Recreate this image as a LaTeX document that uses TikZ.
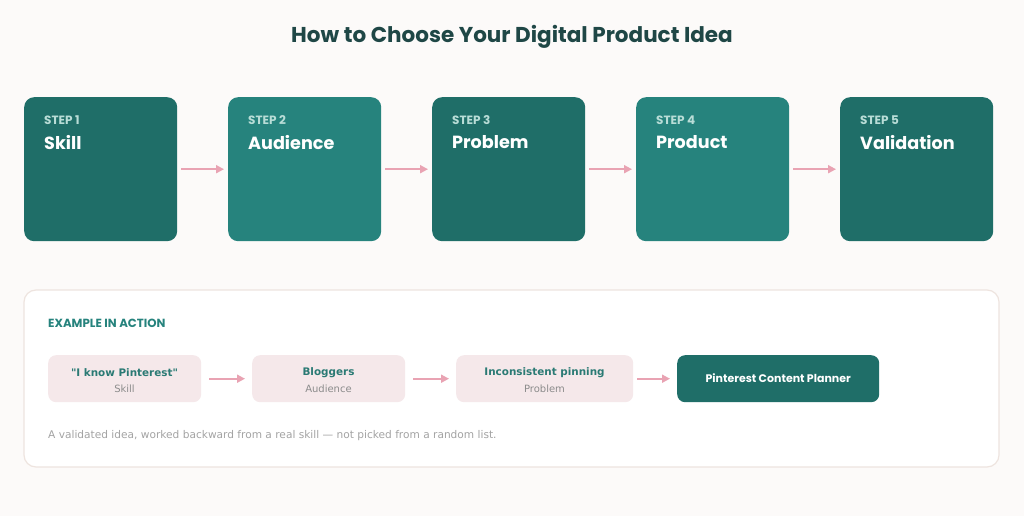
\documentclass[tikz,border=0pt]{standalone}
\usepackage{fontspec}
\setmainfont{DejaVu Sans}[Ligatures=TeXOff]
\newfontfamily\pop{Poppins}
\usetikzlibrary{arrows.meta}
\definecolor{bg}{HTML}{FCFAF9}
\definecolor{titlec}{HTML}{1F4746}
\definecolor{tealA}{HTML}{1F6E68}
\definecolor{tealB}{HTML}{26837D}
\definecolor{steplbl}{HTML}{B9DDD7}
\definecolor{pinkar}{HTML}{E9A3B3}
\definecolor{pinkbox}{HTML}{F5E8EA}
\definecolor{cardborder}{HTML}{EEE4DF}
\definecolor{subgrey}{HTML}{8C8C8C}
\definecolor{capgrey}{HTML}{A3A3A3}
\definecolor{extitle}{HTML}{2A7A74}
\tikzset{
  stepbox/.style={rounded corners=10pt, minimum width=153pt, minimum height=144pt, inner sep=0pt},
  exbox/.style={rounded corners=8pt, fill=pinkbox, minimum height=47pt, inner sep=0pt},
  flow/.style={draw=pinkar, line width=1.8pt, -{Triangle[length=8pt,width=8pt]}},
  steplabel/.style={anchor=west, text=steplbl, font=\pop\bfseries\fontsize{12}{14}\selectfont, inner sep=0pt},
  stepname/.style={anchor=west, text=white, font=\pop\bfseries\fontsize{17.6}{21}\selectfont, inner sep=0pt},
  exmain/.style={text=extitle, font=\bfseries\fontsize{10.4}{12}\selectfont, inner sep=0pt},
  exsub/.style={text=subgrey, font=\fontsize{10}{12}\selectfont, inner sep=0pt},
}
\begin{document}
\begin{tikzpicture}[x=1pt,y=-1pt]
\fill[bg] (0,0) rectangle (1024,516);
\useasboundingbox (0,0) rectangle (1024,516);
\node[text=titlec, font=\pop\bfseries\fontsize{21.5}{25}\selectfont] (title) at (512,37) {How to Choose Your Digital Product Idea};
% steps
\foreach \i/\x/\c/\name in {1/24/tealA/Skill, 2/228/tealB/Audience, 3/432/tealA/Problem, 4/636/tealB/Product, 5/840/tealA/Validation}{
  \node[stepbox, fill=\c, anchor=north west] (s\i) at (\x,97) {};
  \node[steplabel] (sl\i) at (\x+20,120) {STEP \i};
  \node[stepname] (sn\i) at (\x+20,142.5) {\name};
}
\foreach \a/\b in {1/2,2/3,3/4,4/5}{
  \draw[flow] ([xshift=4pt]s\a.east) -- ([xshift=-4pt]s\b.west);
}
% example card
\draw[cardborder, fill=white, line width=1.2pt, rounded corners=12pt] (24,290) rectangle (999,467);
\node[anchor=west, text=tealB, font=\pop\bfseries\fontsize{11.8}{14}\selectfont, inner sep=0pt] (exhead) at (48,323) {EXAMPLE IN ACTION};
\node[exbox, minimum width=153pt, anchor=north west] (e1) at (48,355) {};
\node[exbox, minimum width=153pt, anchor=north west] (e2) at (252,355) {};
\node[exbox, minimum width=177pt, anchor=north west] (e3) at (456,355) {};
\node[exbox, fill=tealA, minimum width=202pt, anchor=north west] (e4) at (677,355) {};
\node[exmain] (t1) at (124.5,372.5) {"I know Pinterest"};
\node[exsub] (u1) at (124.5,388.5) {Skill};
\node[exmain] (t2) at (328.5,372.5) {Bloggers};
\node[exsub] (u2) at (328.5,388.5) {Audience};
\node[exmain] (t3) at (544.5,372.5) {Inconsistent pinning};
\node[exsub] (u3) at (544.5,388.5) {Problem};
\node[text=white, font=\pop\bfseries\fontsize{11}{13}\selectfont, inner sep=0pt] (t4) at ([yshift=1pt]e4.center) {Pinterest Content Planner};
\draw[flow] ([xshift=8pt]e1.east) -- ([xshift=-7pt]e2.west);
\draw[flow] ([xshift=8pt]e2.east) -- ([xshift=-7pt]e3.west);
\draw[flow] ([xshift=4pt]e3.east) -- ([xshift=-7pt]e4.west);
\node[anchor=west, text=capgrey, font=\fontsize{10.6}{13}\selectfont, inner sep=0pt] (cap) at (48,435.5) {A validated idea, worked backward from a real skill — not picked from a random list.};
\end{tikzpicture}
\end{document}
